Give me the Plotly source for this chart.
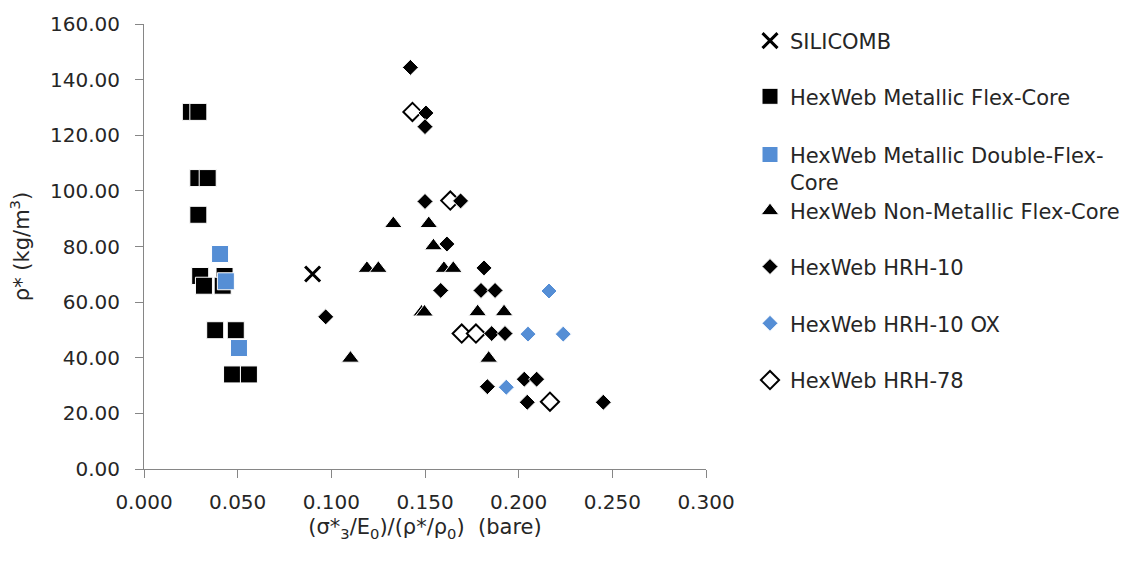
import plotly.graph_objects as go

# ---------------- data ----------------
silicomb_x = [0.090]
silicomb_y = [70.1]

flex_x = [0.025, 0.029, 0.029, 0.034, 0.029, 0.030, 0.043, 0.032, 0.042, 0.038, 0.049, 0.047, 0.056]
flex_y = [128.4, 128.4, 104.6, 104.6, 91.4, 69.4, 69.4, 65.9, 65.9, 49.9, 49.9, 34.0, 34.0]

dflex_x = [0.0406, 0.0437, 0.0507]
dflex_y = [77.3, 67.5, 43.5]

nonmet_x = [0.1331, 0.1520, 0.1545, 0.1102, 0.1190, 0.1251, 0.1601, 0.1651,
            0.1482, 0.1497, 0.1781, 0.1922, 0.1840]
nonmet_y = [88.2, 88.2, 80.2, 39.8, 72.1, 72.1, 72.1, 72.1,
            56.4, 56.4, 56.5, 56.5, 39.8]

hrh10_x = [0.1422, 0.1505, 0.1500, 0.1500, 0.1690, 0.1617, 0.0970, 0.1584, 0.1815,
           0.1799, 0.1874, 0.1856, 0.1927, 0.2030, 0.2096, 0.1833, 0.2046, 0.2452]
hrh10_y = [144.4, 128.0, 123.1, 96.2, 96.4, 80.9, 54.7, 64.2, 72.3,
           64.2, 64.2, 48.7, 48.7, 32.3, 32.3, 29.6, 24.0, 24.0]

hrh10ox_x = [0.2162, 0.2050, 0.2238, 0.1934]
hrh10ox_y = [64.0, 48.5, 48.5, 29.4]

hrh78_x = [0.1433, 0.1635, 0.1696, 0.1772, 0.2167]
hrh78_y = [128.4, 96.5, 48.7, 48.7, 24.2]

names = ["SILICOMB", "HexWeb Metallic Flex-Core", "HexWeb Metallic Double-Flex-<br>Core",
         "HexWeb Non-Metallic Flex-Core", "HexWeb HRH-10", "HexWeb HRH-10 OX", "HexWeb HRH-78"]

x_ticks = [0.0, 0.05, 0.1, 0.15, 0.2, 0.25, 0.3]
y_ticks = [0, 20, 40, 60, 80, 100, 120, 140, 160]

# ---------------- styling ----------------
BLUE = "#558ED5"
FONT = "DejaVu Sans"
TXT = "#262626"
AXC = "#868686"

fig = go.Figure()

fig.add_trace(go.Scatter(x=flex_x, y=flex_y, mode="markers", name=names[1], legend="legend2",
                         marker=dict(symbol="square", size=17, color="black",
                                     line=dict(color="white", width=1))))
fig.add_trace(go.Scatter(x=dflex_x, y=dflex_y, mode="markers", name=names[2], legend="legend3",
                         marker=dict(symbol="square", size=17, color=BLUE,
                                     line=dict(color="white", width=1))))
fig.add_trace(go.Scatter(x=silicomb_x, y=silicomb_y, mode="markers", name=names[0], legend="legend",
                         marker=dict(symbol="x-thin", size=15, color="black",
                                     line=dict(color="black", width=3))))
fig.add_trace(go.Scatter(x=nonmet_x, y=nonmet_y, mode="markers", name=names[3], legend="legend4",
                         marker=dict(symbol="triangle-up", size=15.5, color="black",
                                     line=dict(color="white", width=1))))
fig.add_trace(go.Scatter(x=hrh78_x, y=hrh78_y, mode="markers", name=names[6], legend="legend7",
                         marker=dict(symbol="diamond", size=14, color="white",
                                     line=dict(color="black", width=2))))
fig.add_trace(go.Scatter(x=hrh10_x, y=hrh10_y, mode="markers", name=names[4], legend="legend5",
                         marker=dict(symbol="diamond", size=12.3, color="black",
                                     line=dict(color="white", width=1))))
fig.add_trace(go.Scatter(x=hrh10ox_x, y=hrh10ox_y, mode="markers", name=names[5], legend="legend6",
                         marker=dict(symbol="diamond", size=12.3, color=BLUE,
                                     line=dict(color="white", width=1))))

# plot area: x 144..706 px, y 22..469 px
PT, PB = 22, 469
def py(v):
    return (PB - v) / (PB - PT)

leg_x = (750 - 144) / (706 - 144)
leg_common = dict(x=leg_x, xanchor="left", yanchor="middle", bgcolor="rgba(0,0,0,0)",
                  font=dict(family=FONT, size=21, color=TXT), valign="top")
centers = [39, 95, 167, 210, 266, 323, 380]
legend_keys = ["legend", "legend2", "legend3", "legend4", "legend5", "legend6", "legend7"]
layout_legends = {k: dict(y=py(c), **leg_common) for k, c in zip(legend_keys, centers)}

fig.update_layout(
    width=1142, height=561,
    margin=dict(l=144, r=1142 - 706, t=PT, b=561 - PB),
    paper_bgcolor="white", plot_bgcolor="white",
    font=dict(family=FONT, size=20, color=TXT),
    showlegend=True,
    xaxis=dict(range=[0, 0.3], tickvals=x_ticks, tickformat=".3f",
               showgrid=False, zeroline=False, showline=True, linecolor=AXC, linewidth=1,
               ticks="outside", ticklen=8, tickcolor=AXC, tickwidth=1, ticklabelstandoff=7,
               tickfont=dict(family=FONT, size=20, color=TXT),
               title=dict(text="(σ*<sub>3</sub>/E<sub>0</sub>)/(ρ*/ρ<sub>0</sub>)\u00a0\u00a0(bare)",
                          font=dict(family=FONT, size=21, color=TXT), standoff=6)),
    yaxis=dict(range=[0, 160], tickvals=y_ticks, tickformat=".2f",
               showgrid=False, zeroline=False, showline=True, linecolor=AXC, linewidth=1,
               ticks="outside", ticklen=8, tickcolor=AXC, tickwidth=1, ticklabelstandoff=11,
               tickfont=dict(family=FONT, size=20, color=TXT),
               title=dict(text="ρ* (kg/m<sup>3</sup>)",
                          font=dict(family=FONT, size=21, color=TXT), standoff=14)),
    **layout_legends,
)

fig.write_html("out.html")
